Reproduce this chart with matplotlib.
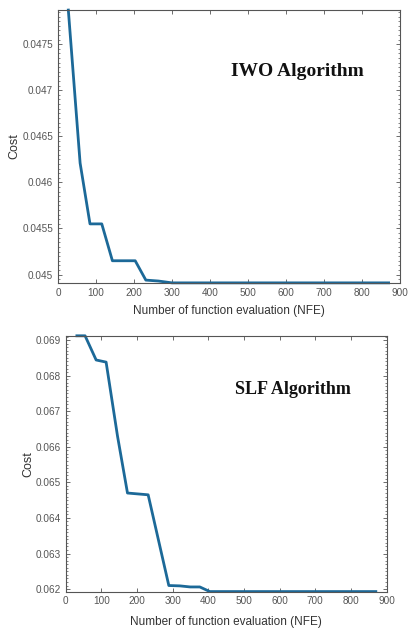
import numpy as np
import matplotlib
matplotlib.use("Agg")
from matplotlib import pyplot as plt
from matplotlib.ticker import AutoMinorLocator, FuncFormatter

# convergence curves
iwo_nfe = [27, 58, 84, 115, 143, 203, 231, 264, 300, 870]
iwo_cost = [0.04787, 0.04621, 0.04555, 0.04555, 0.04515, 0.04515,
            0.04494, 0.04493, 0.04491, 0.04491]

slf_nfe = [31, 54, 85, 113, 145, 173, 231, 289, 320, 349, 376, 404, 870]
slf_cost = [0.06912, 0.06912, 0.06844, 0.06838, 0.06630, 0.06470, 0.06465,
            0.06210, 0.06209, 0.06206, 0.06206, 0.06193, 0.06193]

x_ticks = list(range(0, 1000, 100))
iwo_yticks = [0.045, 0.0455, 0.046, 0.0465, 0.047, 0.0475]
slf_yticks = [0.062, 0.063, 0.064, 0.065, 0.066, 0.067, 0.068, 0.069]

line_color = '#1c6998'
tick_color = '#555555'
label_color = '#333333'

plt.rcParams['font.family'] = ['Liberation Sans', 'DejaVu Sans']

fig = plt.figure(figsize=(4.09, 6.30), dpi=100)


def style_axes(ax, yticks):
    ax.set_xlim(0, 900)
    ax.set_xticks(x_ticks)
    ax.set_yticks(yticks)
    ax.yaxis.set_minor_locator(AutoMinorLocator(10))
    ax.yaxis.set_major_formatter(FuncFormatter(lambda v, p: '%g' % v))
    ax.tick_params(which='both', direction='in', top=True, right=True,
                   labelsize=7.2, colors='#555555', labelcolor=tick_color)
    ax.tick_params(which='major', length=3, width=0.6)
    ax.tick_params(which='minor', length=1.5, width=0.5)
    for s in ax.spines.values():
        s.set_color('#555555')
        s.set_linewidth(0.8)
    ax.set_xlabel('Number of function evaluation (NFE)', fontsize=8.5,
                  color=label_color)
    ax.set_ylabel('Cost', fontsize=9, color=label_color)


# top panel: IWO
ax1 = fig.add_axes([0.142, 0.551, 0.836, 0.433])
ax1.plot(iwo_nfe, iwo_cost, color=line_color, lw=2, clip_on=False)
ax1.set_ylim(0.04491, 0.04787)
style_axes(ax1, iwo_yticks)
ax1.xaxis.set_label_coords(0.5, -0.081)
ax1.yaxis.set_label_coords(-0.111, 0.5)
ax1.text(0.699, 0.774, 'IWO Algorithm', transform=ax1.transAxes,
         ha='center', va='center', fontsize=14, fontweight='bold',
         family='Liberation Serif', color='#111111')

# bottom panel: SLF
ax2 = fig.add_axes([0.161, 0.061, 0.784, 0.406])
ax2.plot(slf_nfe, slf_cost, color=line_color, lw=2, clip_on=False)
ax2.set_ylim(0.06193, 0.06912)
style_axes(ax2, slf_yticks)
ax2.xaxis.set_label_coords(0.5, -0.095)
ax2.yaxis.set_label_coords(-0.099, 0.5)
ax2.text(0.708, 0.789, 'SLF Algorithm', transform=ax2.transAxes,
         ha='center', va='center', fontsize=13, fontweight='bold',
         family='Liberation Serif', color='#111111')

plt.savefig('out.png', dpi=100)
